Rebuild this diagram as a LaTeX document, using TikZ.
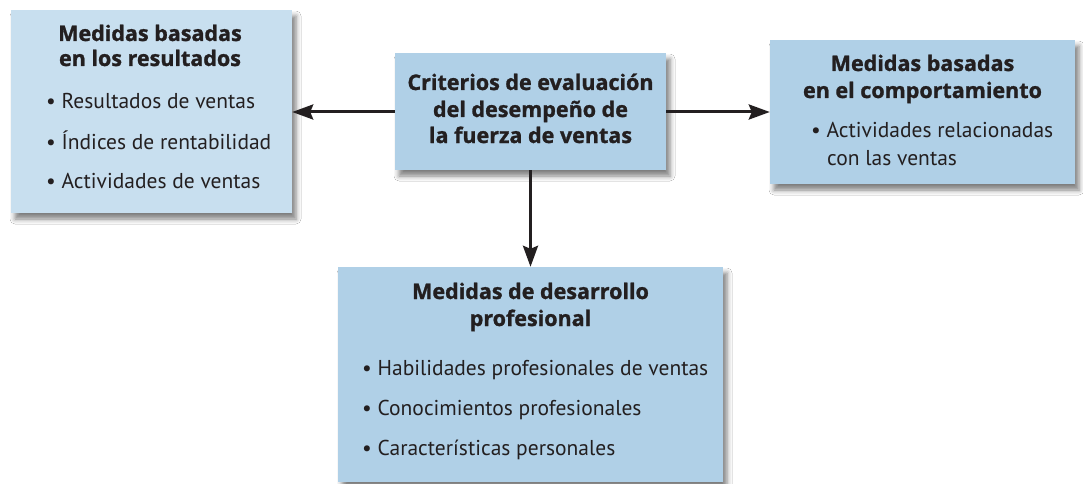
\documentclass[tikz,border=0pt]{standalone}
\usepackage{fontspec}
\setmainfont{PT Sans}
\newfontfamily\headfont{Open Sans}[BoldFeatures={FakeBold=1.2}]
\usetikzlibrary{arrows.meta,shadows.blur}
\definecolor{boxA}{HTML}{C8DFEF}
\definecolor{boxB}{HTML}{B0D0E7}
\definecolor{ink}{HTML}{231F20}
\begin{document}
\begin{tikzpicture}[x=1pt,y=-1pt,
  panel/.style={draw=none,fill=boxB,minimum width=#1,inner sep=0pt,
    blur shadow={shadow xshift=4pt,shadow yshift=-6pt,shadow blur radius=5pt,shadow opacity=50}},
  ttl/.style={font=\headfont\fontsize{21.5}{24}\selectfont\bfseries,text=ink,inner sep=0pt,text height=15pt,text depth=5pt},
  itm/.style={font=\fontsize{21.5}{24}\selectfont,text=ink,inner sep=0pt,anchor=west,text height=14pt,text depth=5pt},
  conn/.style={line width=3pt,draw=ink,-{Stealth[length=21pt,width=15pt,inset=3pt]}}]
\useasboundingbox (0,0) rectangle (1083,484);
\fill[white] (0,0) rectangle (1083,484);
% boxes
\node[panel=281pt,fill=boxA,minimum height=203pt] (L) at (151.5,111.5) {};
\node[panel=271pt,minimum height=117pt] (C) at (530.5,111.5) {};
\node[panel=305pt,minimum height=144pt] (R) at (922.5,112) {};
\node[panel=385pt,minimum height=215pt] (B) at (530.5,374.5) {};
% left texts
\node[ttl] (l1) at (150,36) {Medidas basadas};
\node[ttl] (l2) at (150,61) {en los resultados};
\node[itm] (l3) at (46,104) {• Resultados de ventas};
\node[itm] (l4) at (46,145) {• Índices de rentabilidad};
\node[itm] (l5) at (46,184) {• Actividades de ventas};
% center texts
\node[ttl] (c1) at (530.5,85) {Criterios de evaluación};
\node[ttl] (c2) at (530.5,112) {del desempeño de};
\node[ttl] (c3) at (530.5,138) {la fuerza de ventas};
% right texts
\node[ttl] (r1) at (922.5,66) {Medidas basadas};
\node[ttl] (r2) at (922.5,93) {en el comportamiento};
\node[itm] (r3) at (811,133) {• Actividades relacionadas};
\node[itm] (r4) at (827,161) {con las ventas};
% bottom texts
\node[ttl] (b1) at (530.5,294) {Medidas de desarrollo};
\node[ttl] (b2) at (530.5,321) {profesional};
\node[itm] (b3) at (362,371) {• Habilidades profesionales de ventas};
\node[itm] (b4) at (362,411) {• Conocimientos profesionales};
\node[itm] (b5) at (362,451) {• Características personales};
% connectors
\draw[conn] (C.west |- 0,112) -- (L.east |- 0,112);
\draw[conn] (C.east |- 0,112) -- (R.west |- 0,112);
\draw[conn] (C.south) -- (B.north);
\end{tikzpicture}
\end{document}
